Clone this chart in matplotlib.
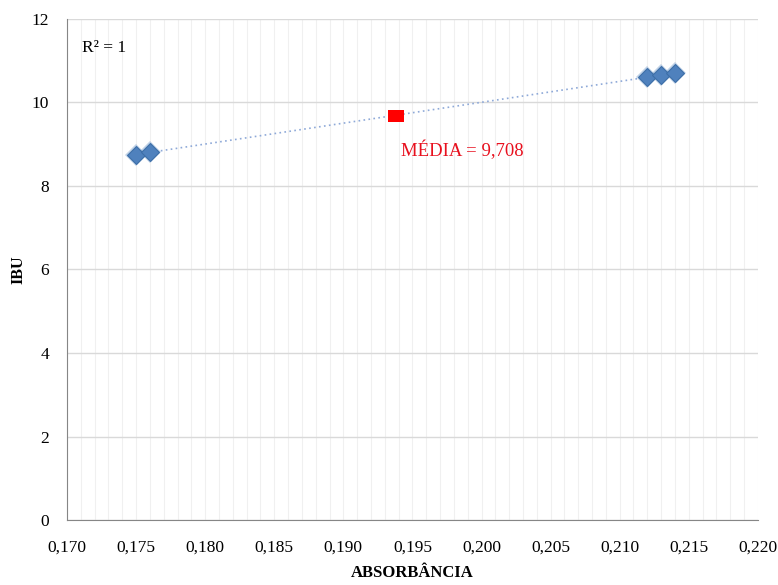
import numpy as np
import matplotlib
matplotlib.use("Agg")
import matplotlib.pyplot as plt
from matplotlib.ticker import MultipleLocator, FuncFormatter

absorbancia = [0.175, 0.176, 0.212, 0.213, 0.214]
ibu = [8.75, 8.80, 10.60, 10.65, 10.70]
media_x = 0.1938
media_y = 9.66
media_label = "MÉDIA = 9,708"
r2_label = "R² = 1"

plt.rcParams['font.family'] = ['Liberation Serif', 'DejaVu Serif']

fig = plt.figure(figsize=(7.78, 5.85), dpi=100)
ax = fig.add_axes([0.0861, 0.111, 0.888, 0.857])

ax.set_xlim(0.170, 0.220)
ax.set_ylim(0, 12)
ax.xaxis.set_major_locator(MultipleLocator(0.005))
ax.xaxis.set_minor_locator(MultipleLocator(0.001))
ax.yaxis.set_major_locator(MultipleLocator(2))
ax.xaxis.set_major_formatter(FuncFormatter(lambda v, p: f"{v:.3f}".replace('.', ',')))
ax.yaxis.set_major_formatter(FuncFormatter(lambda v, p: f"{v:.0f}"))

ax.grid(which='major', axis='y', color='#d9d9d9', linewidth=1)
ax.grid(which='both', axis='x', color='#f0f0f0', linewidth=0.8)
ax.set_axisbelow(True)
for s in ['top', 'right']:
    ax.spines[s].set_visible(False)
for s in ['left', 'bottom']:
    ax.spines[s].set_color('#868686')
ax.tick_params(which='both', length=0, labelsize=12.5, colors='#000000')
ax.tick_params(axis='x', pad=14)
ax.tick_params(axis='y', pad=13)

# trendline
coef = np.polyfit(absorbancia, ibu, 1)
xs = np.array([min(absorbancia), max(absorbancia)])
ax.plot(xs, np.polyval(coef, xs), linestyle=(0, (1, 2)), color='#8ea9d8', linewidth=1.2, zorder=2)

# glow
ax.plot(absorbancia, ibu, linestyle='none', marker='D', markersize=11.5,
        color='#4f81bd', alpha=0.35, markeredgewidth=0, zorder=3)
ax.plot(absorbancia, ibu, linestyle='none', marker='D', markersize=9,
        color='#4f81bd', markeredgecolor='#3d6fa8', markeredgewidth=0.8, zorder=4)

rect = [(-1.3, -1), (1.3, -1), (1.3, 1), (-1.3, 1), (-1.3, -1)]
ax.plot([media_x], [media_y], linestyle='none', marker=rect, markersize=11,
        color='#ff0000', markeredgewidth=0, zorder=5)
ax.text(media_x + 0.0004, media_y - 0.80, media_label, color='#e8101e', fontsize=13.5,
        va='center', ha='left')

ax.text(0.17108, 11.3, r2_label, fontsize=12.5, va='center', ha='left')

ax.set_xlabel("ABSORBÂNCIA", fontsize=12, fontweight='bold', va='center')
ax.xaxis.set_label_coords(0.5, -0.106)
ax.set_ylabel("IBU", fontsize=11.5, fontweight='bold', va='center')
ax.yaxis.set_label_coords(-0.07, 0.5)

fig.savefig("out.png", dpi=100)
